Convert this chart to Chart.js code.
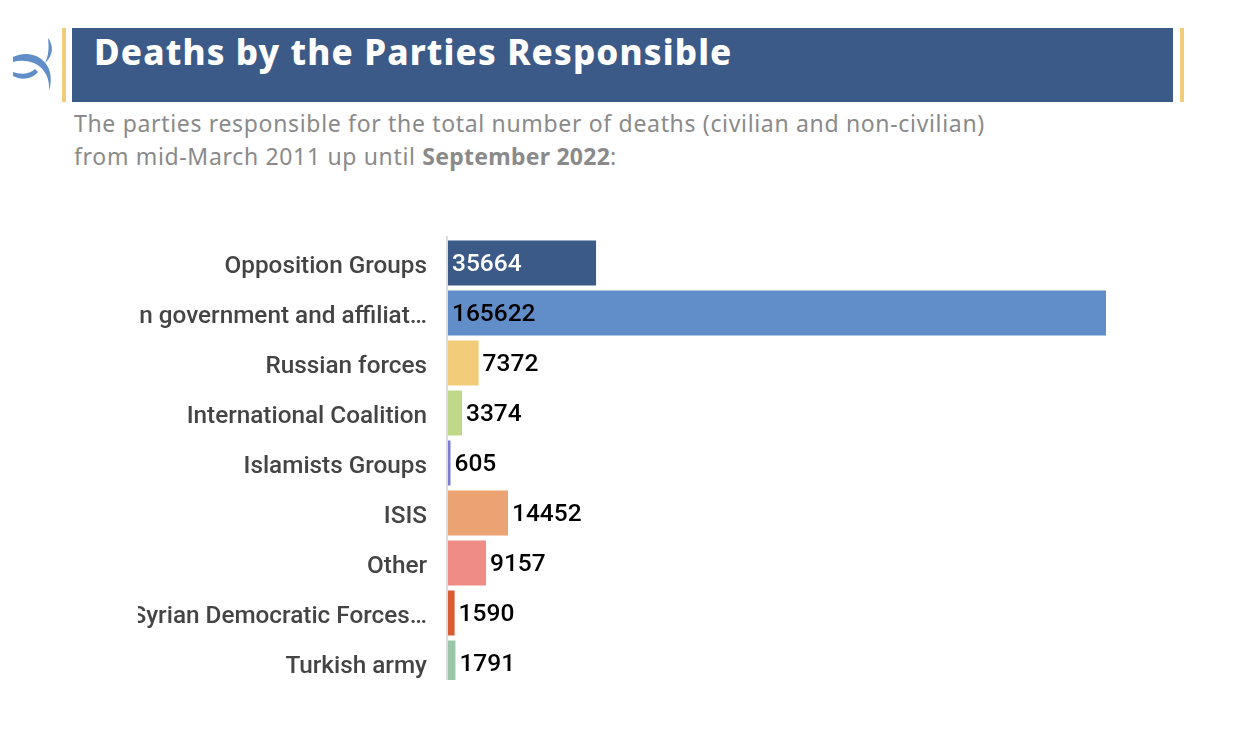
<!DOCTYPE html>
<html>
<head>
<meta charset="utf-8">
<script src="https://cdn.jsdelivr.net/npm/chart.js@4"></script>
<style>
  html, body { margin: 0; padding: 0; background: #fff; width: 1240px; height: 750px; overflow: hidden; }
  .abs { position: absolute; }
  .accent { background: #f2cc78; top: 28px; height: 74px; width: 4px; }
  #banner { left: 72px; top: 28px; width: 1101px; height: 74px; background: #3b5a87; }
  #title { left: 94px; top: 28px; margin: 0; color: #fff; font: 800 35px "Noto Sans", sans-serif; letter-spacing: 1.14px; white-space: nowrap; }
  #subtitle { left: 74px; top: 107px; margin: 0; color: #8a8a8a; font: 400 23px/33px "Noto Sans", sans-serif; letter-spacing: 0.67px; white-space: nowrap; }
  #subtitle b { letter-spacing: 0.25px; }
  #chartBox { left: 138px; top: 236px; width: 1000px; height: 444px; overflow: hidden; }
</style>
</head>
<body>
<svg class="abs" style="left:0;top:20px" width="60" height="90" fill="#618dc8">
  <path d="M13 37 C 33 27, 58 42, 49 71 C 51 48, 32 37, 13 42 Z"/>
  <path d="M48 18 C 54 26, 53 36, 45 43 C 49 35, 49 27, 48 18 Z"/>
  <path d="M13 52 C 21 55, 30 54, 35 49 L 38 52 C 31 60, 21 60, 13 56 Z"/>
</svg>
<div class="abs accent" style="left:62px"></div>
<div class="abs accent" style="left:1180px"></div>
<div class="abs" id="banner"></div>
<h1 class="abs" id="title">Deaths by the Parties Responsible</h1>
<p class="abs" id="subtitle">The parties responsible for the total number of deaths (civilian and non-civilian)<br>from mid-March 2011 up until <b>September 2022</b>:</p>
<div class="abs" id="chartBox"><canvas id="partiesChart"></canvas></div>

<script>
// ------------------ Data ------------------
const categories = [
    "Opposition Groups",
    "Syrian government and affiliat…",
    "Russian forces",
    "International Coalition",
    "Islamists Groups",
    "ISIS",
    "Other",
    "Syrian Democratic Forces…",
    "Turkish army"
];
const deaths = [35664, 165622, 7372, 3374, 605, 14452, 9157, 1590, 1791];
const barColors = ["#3b5a87", "#618dc8", "#f2cc78", "#c0d88a", "#7b7bd0", "#eca373", "#ee8c85", "#d95c35", "#9bc6a9"];
const AXIS_MAX = 158500; // the longest bar runs past the axis and gets clipped
const INSIDE_LABEL_MIN = 30000;

// value labels + the axis line
const barLabels = {
    id: "barLabels",
    afterDatasetsDraw(chart) {
        const { ctx, chartArea, scales } = chart;
        ctx.save();
        ctx.strokeStyle = "#dcdcdc";
        ctx.lineWidth = 2;
        ctx.beginPath();
        ctx.moveTo(chartArea.left - 1, 0);
        ctx.lineTo(chartArea.left - 1, chart.height);
        ctx.stroke();

        ctx.font = '500 24.5px Roboto, sans-serif';
        ctx.textBaseline = "middle";
        ctx.textAlign = "left";
        deaths.forEach((v, i) => {
            const y = scales.y.getPixelForValue(i) + 2;
            const inside = v > INSIDE_LABEL_MIN;
            const x = inside ? chartArea.left + 4 : scales.x.getPixelForValue(v) + 4;
            ctx.fillStyle = i === 0 ? "#ffffff" : "#000000";
            ctx.fillText(String(v), x, y);
        });
        ctx.restore();
    }
};

// ------------------ Chart ------------------
document.getElementById("partiesChart").width = 1000;
document.getElementById("partiesChart").height = 452;
new Chart(document.getElementById("partiesChart"), {
    type: "bar",
    data: {
        labels: categories,
        datasets: [{
            data: deaths,
            backgroundColor: barColors,
            barPercentage: 0.9,
            categoryPercentage: 1
        }]
    },
    options: {
        indexAxis: "y",
        responsive: false,
        animation: false,
        layout: { padding: { top: 2, right: 32, left: 0, bottom: 0 } },
        plugins: {
            legend: { display: false },
            title: { display: false },
            tooltip: { enabled: false }
        },
        scales: {
            x: { display: false, min: 0, max: AXIS_MAX },
            y: {
                // fixed gutter, and no extra room above/below for the tick labels
                afterFit(scale) {
                    scale.width = 310;
                    scale.paddingTop = 0;
                    scale.paddingBottom = 0;
                },
                grid: { display: false },
                border: { display: false },
                ticks: {
                    padding: 13,
                    labelOffset: 4,
                    autoSkip: false,
                    color: "#444444",
                    font: { family: "Roboto", size: 24.3, weight: "500" }
                }
            }
        }
    },
    plugins: [barLabels]
});
</script>
</body>
</html>
